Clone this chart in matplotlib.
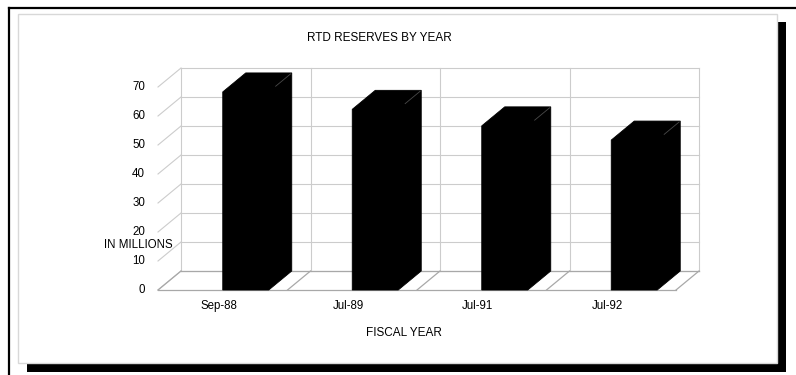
import matplotlib
matplotlib.use('Agg')
import matplotlib.pyplot as plt
from matplotlib.patches import Polygon, Rectangle

plt.rcParams['font.family'] = ['Liberation Sans', 'DejaVu Sans']

# data
categories = ['Sep-88', 'Jul-89', 'Jul-91', 'Jul-92']
reserves = [68.3, 62.3, 56.6, 51.7]
y_ticks = [0, 10, 20, 30, 40, 50, 60, 70]

W, H = 796, 375

# pixel layout of the fake 3d box
X0, Y0 = 158, 290          # front-left corner of the floor (pixels)
PX_CAT, PX_VAL = 129.5, 2.9
DEPTH_X, DEPTH_Y = 23, 19   # depth offset in pixels
BAR_W = 46

fig = plt.figure(figsize=(W / 100, H / 100), dpi=100)
ax = fig.add_axes([0, 0, 1, 1])
ax.set_xlim(-X0 / PX_CAT, (W - X0) / PX_CAT)
ax.set_ylim((Y0 - H) / PX_VAL, Y0 / PX_VAL)
ax.axis('off')
ax.patch.set_visible(False)

dx = DEPTH_X / PX_CAT
dy = DEPTH_Y / PX_VAL
bw = BAR_W / PX_CAT
n = len(categories)
top = y_ticks[-1]


def px(x, y):
    # pixel (from top-left) -> figure fraction
    return x / W, 1 - y / H


# frame: outer lines, light inner box and drop shadow (behind the axes)
fig.add_artist(plt.Line2D([px(9, 0)[0], 1], [px(0, 8)[1]] * 2, color='black', lw=1.6, zorder=-2))
fig.add_artist(plt.Line2D([px(9, 0)[0]] * 2, [0, px(0, 8)[1]], color='black', lw=1.6, zorder=-2))
x1, y1 = px(27, 372)
fig.add_artist(Rectangle((x1, y1), (786 - 27) / W, 9 / H, transform=fig.transFigure,
                         facecolor='black', edgecolor='none', zorder=-2))
x1, y1 = px(777, 372)
fig.add_artist(Rectangle((x1, y1), 9 / W, (372 - 22) / H, transform=fig.transFigure,
                         facecolor='black', edgecolor='none', zorder=-2))
x1, y1 = px(18, 363)
fig.add_artist(Rectangle((x1, y1), (777 - 18) / W, (363 - 14) / H, transform=fig.transFigure,
                         facecolor='white', edgecolor='#d8d8d8', lw=1.0, zorder=-1))

grid_c = '#cccccc'
floor_c = '#a8a8a8'

# back wall grid
for v in y_ticks:
    ax.plot([dx, n + dx], [v + dy, v + dy], color=grid_c, lw=0.8, zorder=2)
    ax.plot([0, dx], [v, v + dy], color=grid_c, lw=0.8, zorder=2)
for k in range(n + 1):
    ax.plot([k + dx, k + dx], [dy, top + dy], color=grid_c, lw=0.8, zorder=2)

# floor
ax.plot([0, n], [0, 0], color=floor_c, lw=0.9, zorder=3)
ax.plot([dx, n + dx], [dy, dy], color=floor_c, lw=0.9, zorder=3)
for k in range(n + 1):
    ax.plot([k, k + dx], [0, dy], color=floor_c, lw=0.9, zorder=3)

# bars: one solid silhouette each, plus a faint edge between top and side
for i, v in enumerate(reserves):
    x = i + 0.5
    ax.add_patch(Polygon([(x, 0), (x + bw, 0), (x + bw + dx, dy), (x + bw + dx, v + dy),
                          (x + dx, v + dy), (x, v)],
                         facecolor='black', edgecolor='black', lw=0.6, zorder=5))
    ax.plot([x + bw + dx * 0.3, x + bw + dx * 0.95], [v + dy * 0.3, v + dy * 0.95],
            color='#4a4a4a', lw=0.6, zorder=6)

# labels
for v in y_ticks:
    ax.text(-13 / PX_CAT, v, str(v), ha='right', va='center', fontsize=8.3, zorder=7)
for i, c in enumerate(categories):
    ax.text(i + 0.47, -16 / PX_VAL, c, ha='center', va='center', fontsize=8.3, zorder=7)

ax.text(-20 / PX_CAT, (Y0 - 245) / PX_VAL, 'IN MILLIONS', ha='center', va='center',
        fontsize=8.3, zorder=7)
fig.text(379 / W, 1 - 38 / H, 'RTD RESERVES BY YEAR', ha='center', va='center', fontsize=8.5)
fig.text(404 / W, 1 - 333 / H, 'FISCAL YEAR', ha='center', va='center', fontsize=8.5)

fig.savefig('out.png', dpi=100)
